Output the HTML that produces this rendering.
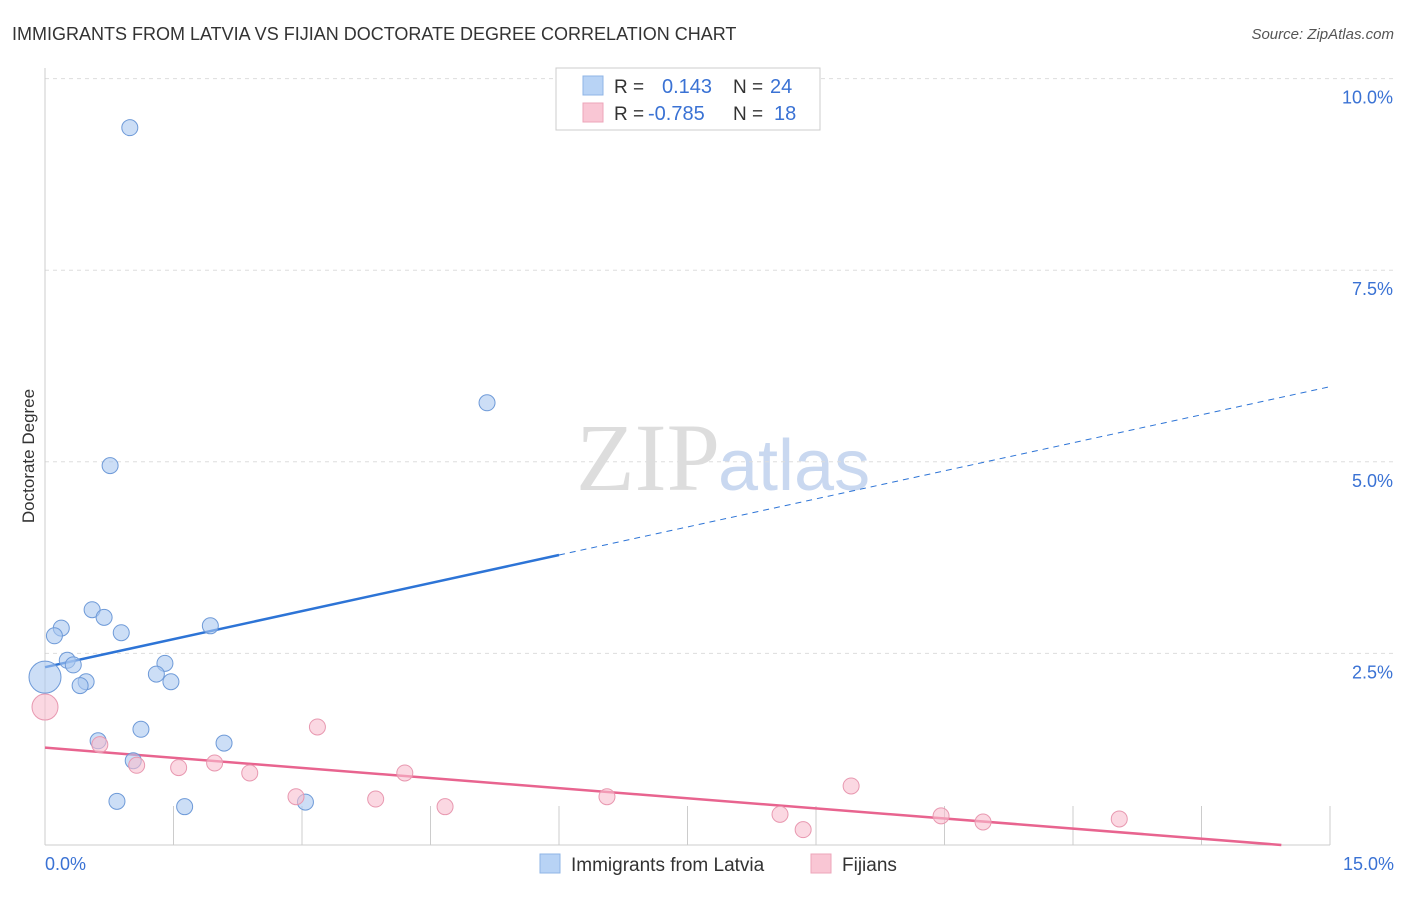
<!DOCTYPE html>
<html><head><meta charset="utf-8"><style>
body{margin:0;background:#fff;font-family:"Liberation Sans",sans-serif;}
svg text{font-family:"Liberation Sans",sans-serif;}
</style></head><body>
<svg id="chart" width="1406" height="892">
<text x="12" y="40" font-size="18" fill="#333">IMMIGRANTS FROM LATVIA VS FIJIAN DOCTORATE DEGREE CORRELATION CHART</text>
<text x="1394" y="39" font-size="15" fill="#555" font-style="italic" text-anchor="end">Source: ZipAtlas.com</text>
<text x="34" y="456" font-size="17" fill="#333" text-anchor="middle" transform="rotate(-90 34 456)">Doctorate Degree</text>
<text x="720" y="490" font-size="96" fill="#ddd" text-anchor="end" font-family="Liberation Serif" style="font-family:'Liberation Serif',serif">ZIP</text>
<text x="718" y="490" font-size="72" fill="#c9d8f0">atlas</text>
<g id="grid"></g><g id="lines"></g><g id="pts"></g>
<g>
<rect x="556" y="68" width="264" height="62" fill="#fff" stroke="#ccc"/>
<rect x="583" y="76" width="20" height="19" fill="#b8d3f5" stroke="#8fb4e6"/>
<rect x="583" y="103" width="20" height="19" fill="#f9c6d4" stroke="#eda5ba"/>
<text x="614" y="93" font-size="19" fill="#333">R = </text><text x="662" y="93" font-size="20" fill="#3a72d4">0.143</text>
<text x="733" y="93" font-size="19" fill="#333">N = </text><text x="770" y="93" font-size="20" fill="#3a72d4">24</text>
<text x="614" y="120" font-size="19" fill="#333">R = </text><text x="648" y="120" font-size="20" fill="#3a72d4">-0.785</text>
<text x="733" y="120" font-size="19" fill="#333">N = </text><text x="774" y="120" font-size="20" fill="#3a72d4">18</text>
</g>
<g>
<rect x="540" y="854" width="20" height="19" fill="#b8d3f5" stroke="#8fb4e6"/>
<text x="571" y="871" font-size="19" fill="#333">Immigrants from Latvia</text>
<rect x="811" y="854" width="20" height="19" fill="#f9c6d4" stroke="#eda5ba"/>
<text x="842" y="871" font-size="19" fill="#333">Fijians</text>
</g>
</svg>
<script>
const yTicks=[2.5,5.0,7.5,10.0];
const yTickLabels=["2.5%","5.0%","7.5%","10.0%"];
const xTickLabels=["0.0%","15.0%"];
const blueX=[0.99,5.16,0.76,0.55,0.69,0.19,0.11,0.89,1.93,0.26,0.33,1.40,1.30,0.48,1.47,0.41,0.0,1.12,0.62,2.09,1.03,0.84,1.63,3.04];
const blueY=[9.36,5.77,4.95,3.07,2.97,2.83,2.73,2.77,2.86,2.41,2.35,2.37,2.23,2.13,2.13,2.08,2.19,1.51,1.36,1.33,1.10,0.57,0.50,0.56];
const blueR=[8,8,8,8,8,8,8,8,8,8,8,8,8,8,8,8,16,8,8,8,8,8,8,8];
const pinkX=[0,0.64,1.07,1.56,1.98,2.39,3.18,2.93,3.86,4.20,4.67,6.56,8.58,8.85,9.41,10.46,10.95,12.54];
const pinkY=[1.80,1.31,1.04,1.01,1.07,0.94,1.54,0.63,0.60,0.94,0.50,0.63,0.40,0.20,0.77,0.38,0.30,0.34];
const pinkR=[13,8,8,8,8,8,8,8,8,8,8,8,8,8,8,8,8,8];
const blueTrend=[2.32,0.244];
const pinkTrend=[1.27,-0.088];
const NS="http://www.w3.org/2000/svg";
const X=v=>45+v/15*1285, Y=v=>845-v*76.64;
function mk(t,a,p){const e=document.createElementNS(NS,t);for(const k in a)e.setAttribute(k,a[k]);p.appendChild(e);return e;}
const g=document.getElementById('grid');
yTicks.forEach((t,i)=>{
 const l=mk('line',{x1:45,x2:1395,y1:Y(t),y2:Y(t),stroke:'#ddd','stroke-dasharray':'4,4'},g);
 
 
 const tx=mk('text',{x:1393,y:Y(t)+25,'font-size':18,fill:'#3a72d4','text-anchor':'end'},g);
 tx.textContent=yTickLabels[i];
 
 
});
const ax=mk('line',{x1:45,x2:45,y1:68,y2:845,stroke:'#ccc'},g);


const bx=mk('line',{x1:45,x2:1330,y1:845,y2:845,stroke:'#ccc'},g);


for(let i=1;i<=10;i++){const t=mk('line',{x1:X(i*1.5),x2:X(i*1.5),y1:806,y2:845,stroke:'#ccc'},g);
 
 }
[[0,45,'start'],[15,1394,'end']].forEach((d,i)=>{const t=mk('text',{x:d[1],y:870,'font-size':18,fill:'#3a72d4','text-anchor':d[2]},g);t.textContent=xTickLabels[i];
 
 });
const L=document.getElementById('lines');
const b1=mk('line',{x1:X(0),y1:Y(blueTrend[0]),x2:X(6),y2:Y(blueTrend[0]+6*blueTrend[1]),stroke:'#2d74d6','stroke-width':2.5},L);


const b2=mk('line',{x1:X(6),y1:Y(blueTrend[0]+6*blueTrend[1]),x2:X(15),y2:Y(blueTrend[0]+15*blueTrend[1]),stroke:'#2d74d6','stroke-width':1,'stroke-dasharray':'6,5'},L);


const pe=-pinkTrend[0]/pinkTrend[1];
const p1=mk('line',{x1:X(0),y1:Y(pinkTrend[0]),x2:X(pe),y2:Y(0),stroke:'#e8648f','stroke-width':2.5},L);


const P=document.getElementById('pts');
blueX.forEach((v,i)=>{const c=mk('circle',{cx:X(v),cy:Y(blueY[i]),r:blueR[i],fill:'rgba(170,200,240,0.6)',stroke:'#6e9ad8','stroke-width':1},P);
 
 });
pinkX.forEach((v,i)=>{const c=mk('circle',{cx:X(v),cy:Y(pinkY[i]),r:pinkR[i],fill:'rgba(248,190,206,0.6)',stroke:'#e898b0','stroke-width':1},P);
 
 });
</script>
</body></html>
